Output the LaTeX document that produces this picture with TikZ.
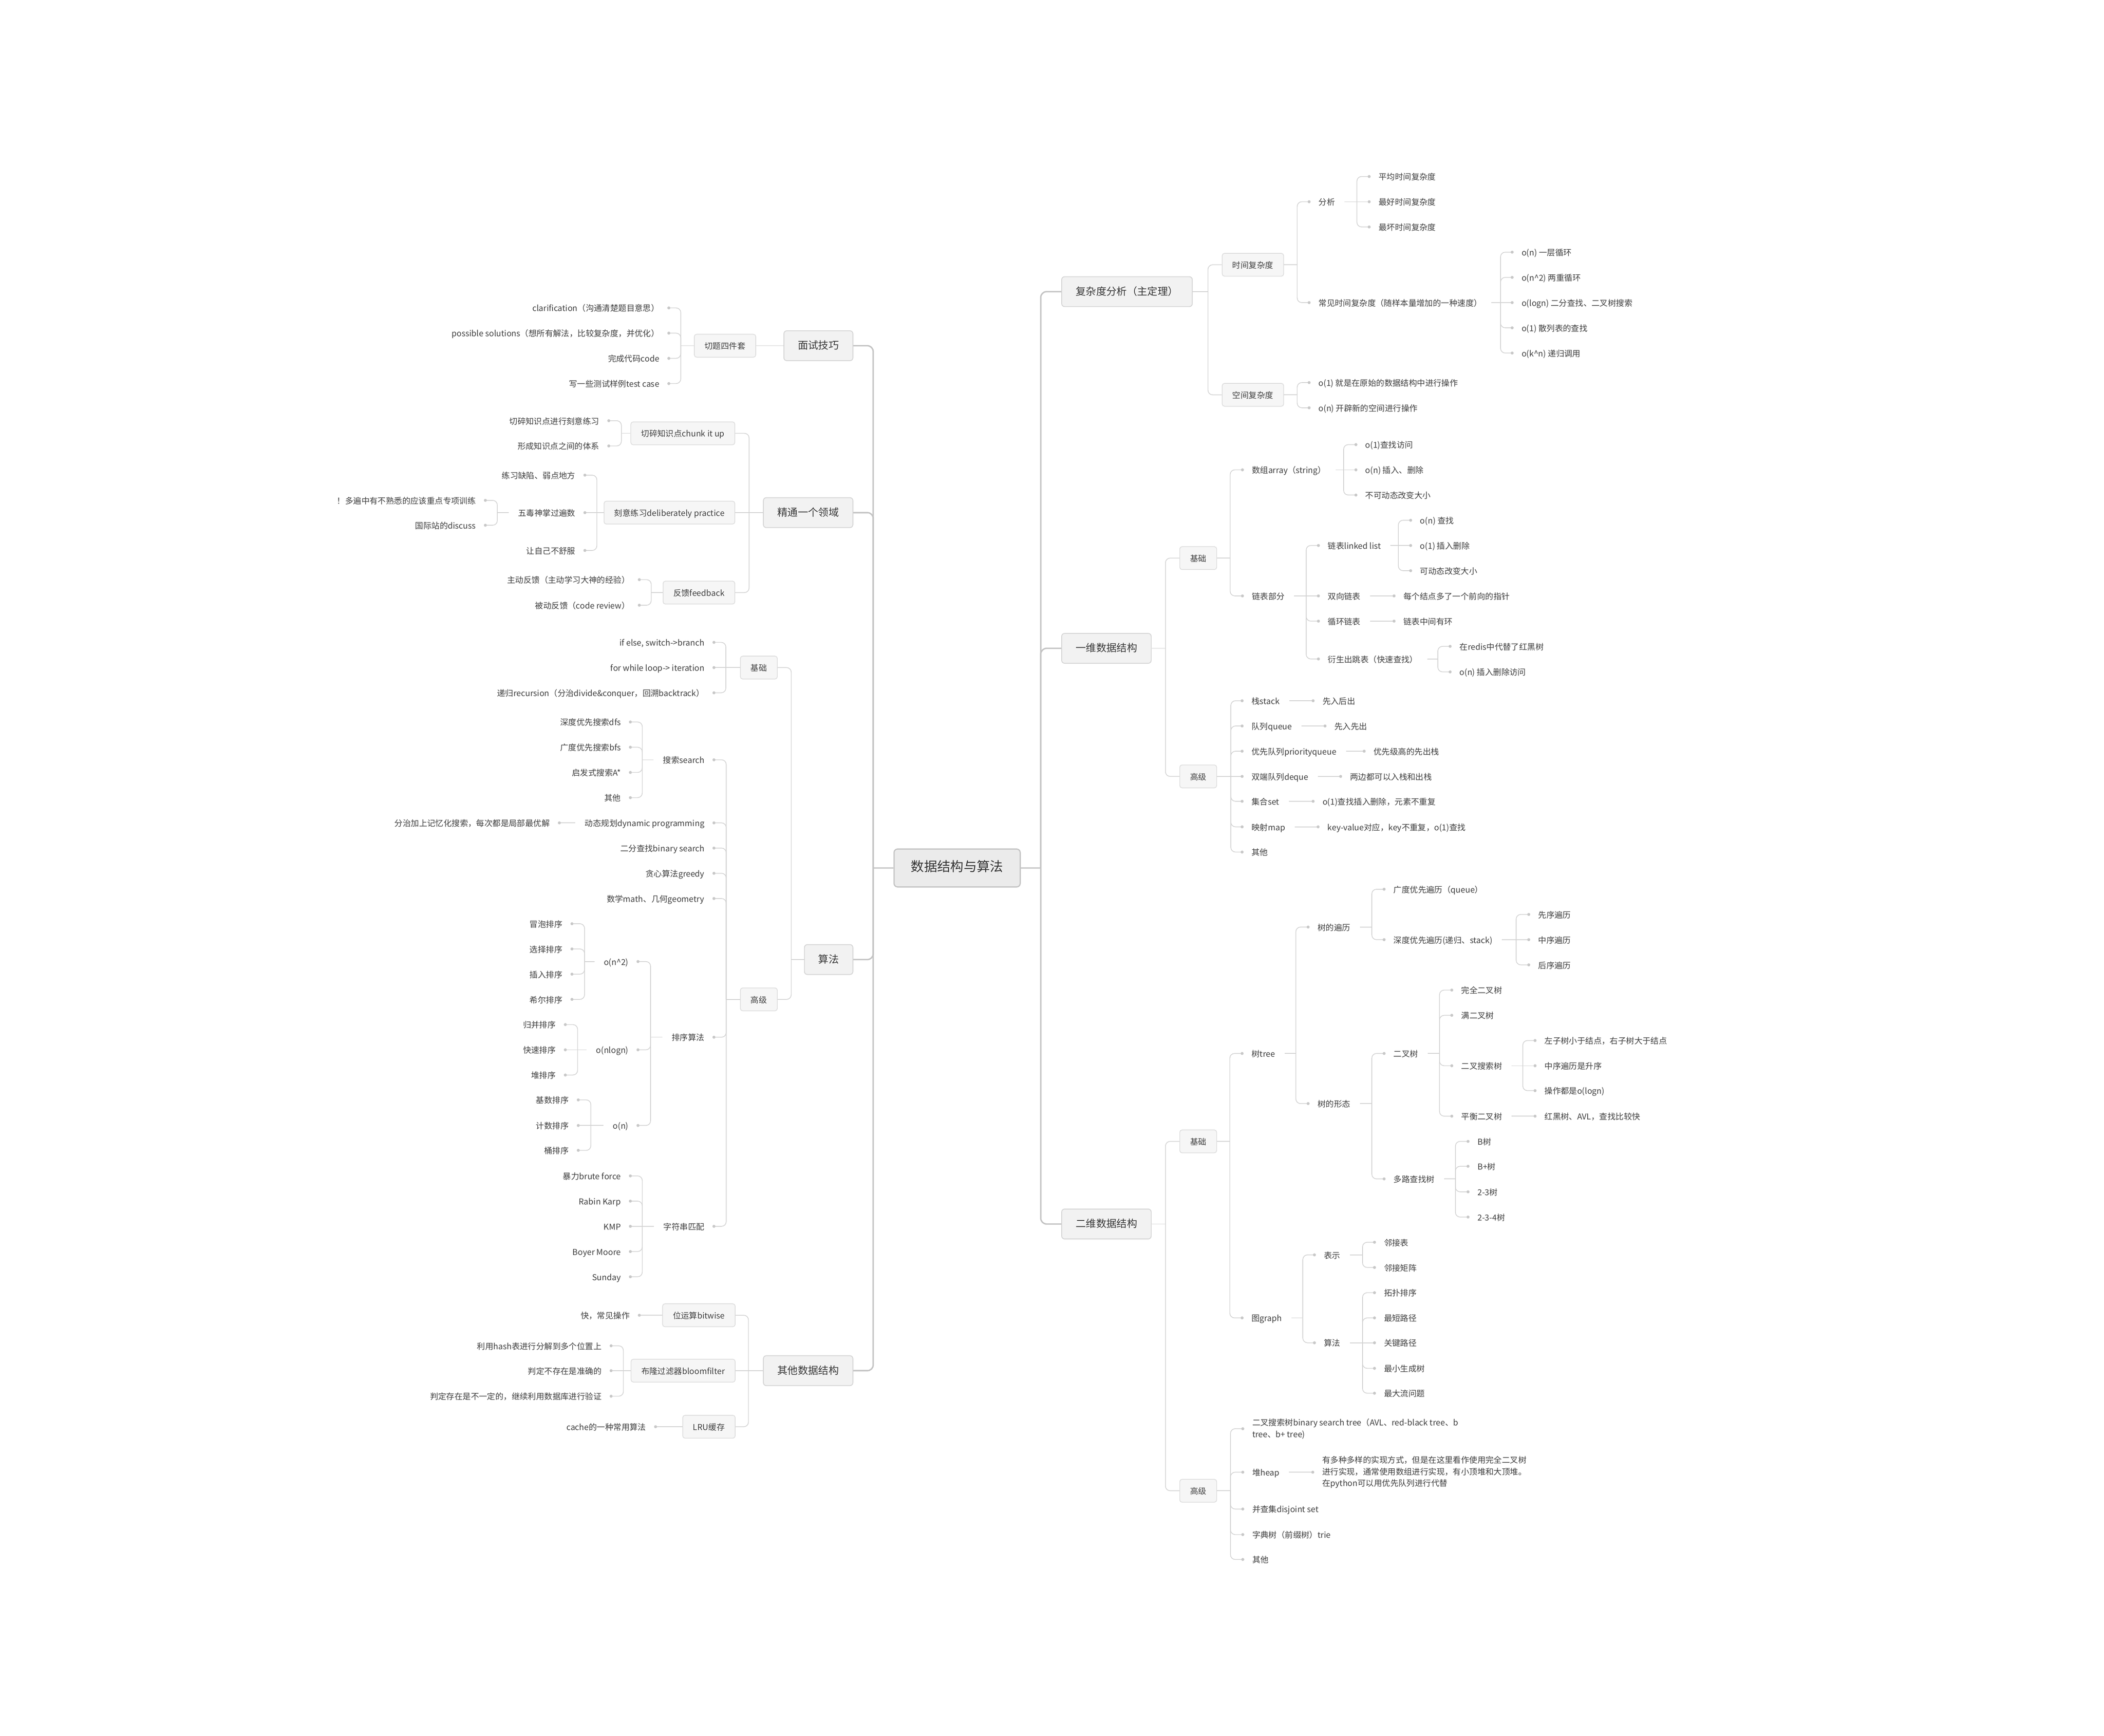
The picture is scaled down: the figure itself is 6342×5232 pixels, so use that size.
\documentclass[tikz,border=0pt]{standalone}
\usepackage{fontspec}
\setmainfont{Noto Sans CJK SC}
\definecolor{txt}{HTML}{404040}
\definecolor{txtone}{HTML}{383838}
\definecolor{txtzero}{HTML}{333333}
\definecolor{lc}{HTML}{D2D2D2}
\definecolor{mlc}{HTML}{C4C4C4}
\definecolor{dc}{HTML}{C8C8C8}
\definecolor{btf}{HTML}{F6F6F6}
\definecolor{btd}{HTML}{DCDCDC}
\definecolor{bof}{HTML}{F2F2F2}
\definecolor{bod}{HTML}{D4D4D4}
\definecolor{rf}{HTML}{EBEBEB}
\definecolor{rd}{HTML}{C4C4C4}
\newcommand\brL[2]{\draw[conn,rc] (#1) |- (#2.east); \fill[dotc] (#2.east) circle (0.45mm);}
\newcommand\brLs[2]{\draw[conn] (#1) -- (#2.east); \fill[dotc] (#2.east) circle (0.45mm);}
\newcommand\bxL[2]{\draw[conn,rc] (#1) |- (#2.east);}
\newcommand\brR[2]{\draw[conn,rc] (#1) |- (#2.west); \fill[dotc] (#2.west) circle (0.45mm);}
\newcommand\brRs[2]{\draw[conn] (#1) -- (#2.west); \fill[dotc] (#2.west) circle (0.45mm);}
\newcommand\bxR[2]{\draw[conn,rc] (#1) |- (#2.west);}
\begin{document}
\begin{tikzpicture}[x=0.01cm,y=-0.01cm,
 txtbase/.style={font=\fontsize{7}{10}\selectfont, text=txt},
 leafL/.style={txtbase, anchor=east, inner xsep=0.28cm, inner ysep=1pt, text height=0.8em, text depth=0.2em},
 leafR/.style={txtbase, anchor=west, inner xsep=0.28cm, inner ysep=1pt, text height=0.8em, text depth=0.2em},
 multiR/.style={txtbase, anchor=west, inner xsep=0.28cm, inner ysep=1pt, align=left},
 boxtwo/.style={txtbase, draw=btd, fill=btf, line width=0.6pt, rounded corners=2pt, minimum height=0.69cm, inner xsep=0.31cm, text height=0.8em, text depth=0.2em},
 boxone/.style={font=\fontsize{8.8}{11}\selectfont, text=txtone, draw=bod, fill=bof, line width=0.7pt, rounded corners=2.5pt, minimum height=0.9cm, inner xsep=0.42cm, text height=0.8em, text depth=0.2em},
 rootbox/.style={font=\fontsize{11.3}{14}\selectfont, text=txtzero, draw=rd, fill=rf, line width=1pt, rounded corners=3pt, minimum height=1.14cm, inner xsep=0.51cm, text height=0.8em, text depth=0.2em},
 conn/.style={draw=lc, line width=0.6pt},
 mconn/.style={draw=mlc, line width=1.2pt},
 rc/.style={rounded corners=4pt},
 mrc/.style={rounded corners=5pt},
 dotc/.style={fill=dc},
]
\fill[white] (0,0) rectangle (6342,5232);
\path[use as bounding box] (0,0) rectangle (6342,5232);

% ---------------- root ----------------
\node[rootbox] (root) at (2885,2616) {数据结构与算法};
\coordinate (sL) at (2632,2616);
\coordinate (sR) at (3137,2616);
\draw[mconn] (root.west) -- (sL);
\draw[mconn] (root.east) -- (sR);

% level 1 left
\node[boxone,anchor=east] (ms) at (2572,1042) {面试技巧};
\node[boxone,anchor=east] (jt) at (2572,1545) {精通一个领域};
\node[boxone,anchor=east] (sf) at (2572,2892) {算法};
\node[boxone,anchor=east] (qt) at (2572,4131) {其他数据结构};
\foreach \n in {ms,jt,sf,qt} {\draw[mconn,mrc] (sL) |- (\n.east);}

% level 1 right
\node[boxone,anchor=west] (fz) at (3199,879) {复杂度分析（主定理）};
\node[boxone,anchor=west] (yw) at (3199,1954) {一维数据结构};
\node[boxone,anchor=west] (ew) at (3199,3689) {二维数据结构};
\foreach \n in {fz,yw,ew} {\draw[mconn,mrc] (sR) |- (\n.west);}

% ================= LEFT =================
% 面试技巧
\node[boxtwo,anchor=east] (qts) at (2279,1042) {切题四件套};
\draw[conn] (ms.west) -- (qts.east);
\coordinate (s-qts) at (2052,1042);
\draw[conn] (qts.west) -- (s-qts);
\node[leafL] (q1) at (2016,928) {clarification（沟通清楚题目意思）};
\node[leafL] (q2) at (2016,1004) {possible solutions（想所有解法，比较复杂度，并优化）};
\node[leafL] (q3) at (2016,1080) {完成代码code};
\node[leafL] (q4) at (2016,1156) {写一些测试样例test case};
\foreach \n in {q1,q2,q3,q4} {\brL{s-qts}{\n}}

% 精通一个领域
\coordinate (s-jt) at (2258,1545);
\draw[conn] (jt.west) -- (s-jt);
\node[boxtwo,anchor=east] (ck) at (2216,1306) {切碎知识点chunk it up};
\node[boxtwo,anchor=east] (kd) at (2216,1545) {刻意练习deliberately practice};
\node[boxtwo,anchor=east] (fb) at (2216,1786) {反馈feedback};
\bxL{s-jt}{ck}
\draw[conn] (s-jt) -- (kd.east);
\bxL{s-jt}{fb}

\coordinate (s-ck) at (1873,1306);
\draw[conn] (ck.west) -- (s-ck);
\node[leafL] (ck1) at (1835,1268) {切碎知识点进行刻意练习};
\node[leafL] (ck2) at (1835,1344) {形成知识点之间的体系};
\brL{s-ck}{ck1}\brL{s-ck}{ck2}

\coordinate (s-kd) at (1799,1545);
\draw[conn] (kd.west) -- (s-kd);
\node[leafL] (kd1) at (1763,1432) {练习缺陷、弱点地方};
\node[leafL] (kd2) at (1763,1545) {五毒神掌过遍数};
\node[leafL] (kd3) at (1763,1659) {让自己不舒服};
\brL{s-kd}{kd1}\brLs{s-kd}{kd2}\brL{s-kd}{kd3}
\coordinate (s-kd2) at (1499,1545);
\draw[conn] (kd2.west) -- (s-kd2);
\node[leafL] (wd1) at (1463,1508) {！多遍中有不熟悉的应该重点专项训练};
\node[leafL] (wd2) at (1463,1583) {国际站的discuss};
\brL{s-kd2}{wd1}\brL{s-kd2}{wd2}

\coordinate (s-fb) at (1963,1786);
\draw[conn] (fb.west) -- (s-fb);
\node[leafL] (fb1) at (1927,1747) {主动反馈（主动学习大神的经验）};
\node[leafL] (fb2) at (1927,1824) {被动反馈（code review）};
\brL{s-fb}{fb1}\brL{s-fb}{fb2}

% 算法
\coordinate (s-sf) at (2385,2892);
\draw[conn] (sf.west) -- (s-sf);
\node[boxtwo,anchor=east] (sj) at (2344,2012) {基础};
\node[boxtwo,anchor=east] (sg) at (2344,3012) {高级};
\bxL{s-sf}{sj}\bxL{s-sf}{sg}

\coordinate (s-sj) at (2188,2012);
\draw[conn] (sj.west) -- (s-sj);
\node[leafL] (sj1) at (2152,1936) {if else, switch->branch};
\node[leafL] (sj2) at (2152,2012) {for while loop-> iteration};
\node[leafL] (sj3) at (2152,2088) {递归recursion（分治divide\&conquer，回溯backtrack）};
\brL{s-sj}{sj1}\brLs{s-sj}{sj2}\brL{s-sj}{sj3}

\coordinate (s-sg) at (2189,3012);
\draw[conn] (sg.west) -- (s-sg);
\node[leafL] (ss) at (2152,2290) {搜索search};
\node[leafL] (dpg) at (2152,2480) {动态规划dynamic programming};
\node[leafL] (bsr) at (2152,2556) {二分查找binary search};
\node[leafL] (gr) at (2152,2632) {贪心算法greedy};
\node[leafL] (mt) at (2152,2708) {数学math、几何geometry};
\node[leafL] (px) at (2152,3126) {排序算法};
\node[leafL] (zf) at (2152,3696) {字符串匹配};
\foreach \n in {ss,dpg,bsr,gr,mt,px,zf} {\brL{s-sg}{\n}}

\coordinate (s-ss) at (1936,2290);
\draw[conn] (ss.west) -- (s-ss);
\node[leafL] (ss1) at (1900,2176) {深度优先搜索dfs};
\node[leafL] (ss2) at (1900,2252) {广度优先搜索bfs};
\node[leafL] (ss3) at (1900,2328) {启发式搜索A*};
\node[leafL] (ss4) at (1900,2404) {其他};
\foreach \n in {ss1,ss2,ss3,ss4} {\brL{s-ss}{\n}}

\node[leafL] (dp1) at (1686,2480) {分治加上记忆化搜索，每次都是局部最优解};
\draw[conn] (dpg.west) -- (dp1.east); \fill[dotc] (dp1.east) circle (0.45mm);

\coordinate (s-px) at (1961,3126);
\draw[conn] (px.west) -- (s-px);
\node[leafL] (on2) at (1923,2898) {o(n\textasciicircum 2)};
\node[leafL] (onl) at (1923,3164) {o(nlogn)};
\node[leafL] (on) at (1923,3392) {o(n)};
\foreach \n in {on2,onl,on} {\brL{s-px}{\n}}

\coordinate (s-on2) at (1762,2898);
\draw[conn] (on2.west) -- (s-on2);
\node[leafL] (p1) at (1724,2784) {冒泡排序};
\node[leafL] (p2) at (1724,2860) {选择排序};
\node[leafL] (p3) at (1724,2936) {插入排序};
\node[leafL] (p4) at (1724,3012) {希尔排序};
\foreach \n in {p1,p2,p3,p4} {\brL{s-on2}{\n}}

\coordinate (s-onl) at (1741,3164);
\draw[conn] (onl.west) -- (s-onl);
\node[leafL] (p5) at (1704,3088) {归并排序};
\node[leafL] (p6) at (1704,3164) {快速排序};
\node[leafL] (p7) at (1704,3240) {堆排序};
\brL{s-onl}{p5}\brLs{s-onl}{p6}\brL{s-onl}{p7}

\coordinate (s-on) at (1781,3392);
\draw[conn] (on.west) -- (s-on);
\node[leafL] (p8) at (1743,3315) {基数排序};
\node[leafL] (p9) at (1743,3392) {计数排序};
\node[leafL] (p10) at (1743,3467) {桶排序};
\brL{s-on}{p8}\brLs{s-on}{p9}\brL{s-on}{p10}

\coordinate (s-zf) at (1936,3696);
\draw[conn] (zf.west) -- (s-zf);
\node[leafL] (z1) at (1900,3544) {暴力brute force};
\node[leafL] (z2) at (1900,3620) {Rabin Karp};
\node[leafL] (z3) at (1900,3696) {KMP};
\node[leafL] (z4) at (1900,3772) {Boyer Moore};
\node[leafL] (z5) at (1900,3848) {Sunday};
\brL{s-zf}{z1}\brL{s-zf}{z2}\brLs{s-zf}{z3}\brL{s-zf}{z4}\brL{s-zf}{z5}

% 其他数据结构
\coordinate (s-qt) at (2256,4131);
\draw[conn] (qt.west) -- (s-qt);
\node[boxtwo,anchor=east] (bw) at (2217,3964) {位运算bitwise};
\node[boxtwo,anchor=east] (bf) at (2217,4131) {布隆过滤器bloomfilter};
\node[boxtwo,anchor=east] (lru) at (2217,4300) {LRU缓存};
\bxL{s-qt}{bw}
\draw[conn] (s-qt) -- (bf.east);
\bxL{s-qt}{lru}

\node[leafL] (bw1) at (1927,3964) {快，常见操作};
\draw[conn] (bw.west) -- (bw1.east); \fill[dotc] (bw1.east) circle (0.45mm);

\coordinate (s-bf) at (1879,4131);
\draw[conn] (bf.west) -- (s-bf);
\node[leafL] (bf1) at (1842,4056) {利用hash表进行分解到多个位置上};
\node[leafL] (bf2) at (1842,4131) {判定不存在是准确的};
\node[leafL] (bf3) at (1842,4208) {判定存在是不一定的，继续利用数据库进行验证};
\brL{s-bf}{bf1}\brLs{s-bf}{bf2}\brL{s-bf}{bf3}

\node[leafL] (lru1) at (1976,4300) {cache的一种常用算法};
\draw[conn] (lru.west) -- (lru1.east); \fill[dotc] (lru1.east) circle (0.45mm);

% ================= RIGHT =================
% 复杂度分析
\coordinate (s-fz) at (3641,879);
\draw[conn] (fz.east) -- (s-fz);
\node[boxtwo,anchor=west] (sjf) at (3683,798) {时间复杂度};
\node[boxtwo,anchor=west] (kjf) at (3683,1190) {空间复杂度};
\bxR{s-fz}{sjf}\bxR{s-fz}{kjf}

\coordinate (s-sjf) at (3910,798);
\draw[conn] (sjf.east) -- (s-sjf);
\node[leafR] (fx) at (3946,608) {分析};
\node[leafR] (cj) at (3946,912) {常见时间复杂度（随样本量增加的一种速度）};
\brR{s-sjf}{fx}\brR{s-sjf}{cj}

\coordinate (s-fx) at (4090,608);
\draw[conn] (fx.east) -- (s-fx);
\node[leafR] (fx1) at (4127,532) {平均时间复杂度};
\node[leafR] (fx2) at (4127,608) {最好时间复杂度};
\node[leafR] (fx3) at (4127,684) {最坏时间复杂度};
\brR{s-fx}{fx1}\brRs{s-fx}{fx2}\brR{s-fx}{fx3}

\coordinate (s-cj) at (4523,912);
\draw[conn] (cj.east) -- (s-cj);
\node[leafR] (cj1) at (4558,760) {o(n) 一层循环};
\node[leafR] (cj2) at (4558,836) {o(n\textasciicircum 2) 两重循环};
\node[leafR] (cj3) at (4558,912) {o(logn) 二分查找、二叉树搜索};
\node[leafR] (cj4) at (4558,988) {o(1) 散列表的查找};
\node[leafR] (cj5) at (4558,1064) {o(k\textasciicircum n) 递归调用};
\brR{s-cj}{cj1}\brR{s-cj}{cj2}\brRs{s-cj}{cj3}\brR{s-cj}{cj4}\brR{s-cj}{cj5}

\coordinate (s-kjf) at (3910,1190);
\draw[conn] (kjf.east) -- (s-kjf);
\node[leafR] (kj1) at (3946,1153) {o(1) 就是在原始的数据结构中进行操作};
\node[leafR] (kj2) at (3946,1229) {o(n) 开辟新的空间进行操作};
\brR{s-kjf}{kj1}\brR{s-kjf}{kj2}

% 一维数据结构
\coordinate (s-yw) at (3513,1954);
\draw[conn] (yw.east) -- (s-yw);
\node[boxtwo,anchor=west] (yj) at (3555,1682) {基础};
\node[boxtwo,anchor=west] (yg) at (3555,2340) {高级};
\bxR{s-yw}{yj}\bxR{s-yw}{yg}

\coordinate (s-yj) at (3708,1682);
\draw[conn] (yj.east) -- (s-yj);
\node[leafR] (sz) at (3745,1416) {数组array（string）};
\node[leafR] (lb) at (3745,1796) {链表部分};
\brR{s-yj}{sz}\brR{s-yj}{lb}

\coordinate (s-sz) at (4050,1416);
\draw[conn] (sz.east) -- (s-sz);
\node[leafR] (sz1) at (4087,1340) {o(1)查找访问};
\node[leafR] (sz2) at (4087,1416) {o(n) 插入、删除};
\node[leafR] (sz3) at (4087,1492) {不可动态改变大小};
\brR{s-sz}{sz1}\brRs{s-sz}{sz2}\brR{s-sz}{sz3}

\coordinate (s-lb) at (3937,1796);
\draw[conn] (lb.east) -- (s-lb);
\node[leafR] (ll) at (3974,1644) {链表linked list};
\node[leafR] (sxl) at (3974,1796) {双向链表};
\node[leafR] (xhl) at (3974,1872) {循环链表};
\node[leafR] (tbl) at (3974,1986) {衍生出跳表（快速查找）};
\brR{s-lb}{ll}\brRs{s-lb}{sxl}\brR{s-lb}{xhl}\brR{s-lb}{tbl}

\coordinate (s-ll) at (4215,1644);
\draw[conn] (ll.east) -- (s-ll);
\node[leafR] (ll1) at (4252,1568) {o(n) 查找};
\node[leafR] (ll2) at (4252,1644) {o(1) 插入删除};
\node[leafR] (ll3) at (4252,1720) {可动态改变大小};
\brR{s-ll}{ll1}\brRs{s-ll}{ll2}\brR{s-ll}{ll3}

\node[leafR] (sx1) at (4202,1796) {每个结点多了一个前向的指针};
\draw[conn] (sxl.east) -- (sx1.west); \fill[dotc] (sx1.west) circle (0.45mm);
\node[leafR] (xh1) at (4202,1872) {链表中间有环};
\draw[conn] (xhl.east) -- (xh1.west); \fill[dotc] (xh1.west) circle (0.45mm);

\coordinate (s-tbl) at (4334,1986);
\draw[conn] (tbl.east) -- (s-tbl);
\node[leafR] (tb1) at (4371,1948) {在redis中代替了红黑树};
\node[leafR] (tb2) at (4371,2025) {o(n) 插入删除访问};
\brR{s-tbl}{tb1}\brR{s-tbl}{tb2}

\coordinate (s-yg) at (3710,2340);
\draw[conn] (yg.east) -- (s-yg);
\node[leafR] (stk) at (3744,2112) {栈stack};
\node[leafR] (que) at (3744,2188) {队列queue};
\node[leafR] (pq) at (3744,2264) {优先队列priorityqueue};
\node[leafR] (dq) at (3744,2340) {双端队列deque};
\node[leafR] (st) at (3744,2415) {集合set};
\node[leafR] (mp) at (3744,2492) {映射map};
\node[leafR] (qo) at (3744,2568) {其他};
\brR{s-yg}{stk}\brR{s-yg}{que}\brR{s-yg}{pq}\brRs{s-yg}{dq}\brR{s-yg}{st}\brR{s-yg}{mp}\brR{s-yg}{qo}

\node[leafR] (stk1) at (3958,2112) {先入后出};
\node[leafR] (que1) at (3994,2188) {先入先出};
\node[leafR] (pq1) at (4112,2264) {优先级高的先出栈};
\node[leafR] (dq1) at (4041,2340) {两边都可以入栈和出栈};
\node[leafR] (st1) at (3958,2415) {o(1)查找插入删除，元素不重复};
\node[leafR] (mp1) at (3973,2492) {key-value对应，key不重复，o(1)查找};
\foreach \a/\b in {stk/stk1,que/que1,pq/pq1,dq/dq1,st/st1,mp/mp1} {
  \draw[conn] (\a.east) -- (\b.west); \fill[dotc] (\b.west) circle (0.45mm);}

% 二维数据结构
\coordinate (s-ew) at (3513,3689);
\draw[conn] (ew.east) -- (s-ew);
\node[boxtwo,anchor=west] (ej) at (3555,3440) {基础};
\node[boxtwo,anchor=west] (eg) at (3555,4493) {高级};
\bxR{s-ew}{ej}\bxR{s-ew}{eg}

\coordinate (s-ej) at (3707,3440);
\draw[conn] (ej.east) -- (s-ej);
\node[leafR] (tr) at (3744,3175) {树tree};
\node[leafR] (gp) at (3744,3972) {图graph};
\brR{s-ej}{tr}\brR{s-ej}{gp}

\coordinate (s-tr) at (3906,3175);
\draw[conn] (tr.east) -- (s-tr);
\node[leafR] (tt) at (3943,2794) {树的遍历};
\node[leafR] (tx) at (3943,3326) {树的形态};
\brR{s-tr}{tt}\brR{s-tr}{tx}

\coordinate (s-tt) at (4135,2794);
\draw[conn] (tt.east) -- (s-tt);
\node[leafR] (bfs) at (4172,2680) {广度优先遍历（queue）};
\node[leafR] (dfs) at (4172,2832) {深度优先遍历(递归、stack)};
\brR{s-tt}{bfs}\brR{s-tt}{dfs}

\coordinate (s-dfs) at (4570,2832);
\draw[conn] (dfs.east) -- (s-dfs);
\node[leafR] (d1) at (4608,2756) {先序遍历};
\node[leafR] (d2) at (4608,2832) {中序遍历};
\node[leafR] (d3) at (4608,2908) {后序遍历};
\brR{s-dfs}{d1}\brRs{s-dfs}{d2}\brR{s-dfs}{d3}

\coordinate (s-tx) at (4135,3326);
\draw[conn] (tx.east) -- (s-tx);
\node[leafR] (bt) at (4172,3175) {二叉树};
\node[leafR] (mw) at (4172,3553) {多路查找树};
\brR{s-tx}{bt}\brR{s-tx}{mw}

\coordinate (s-bt) at (4339,3175);
\draw[conn] (bt.east) -- (s-bt);
\node[leafR] (bt1) at (4376,2984) {完全二叉树};
\node[leafR] (bt2) at (4376,3060) {满二叉树};
\node[leafR] (bt3) at (4376,3212) {二叉搜索树};
\node[leafR] (bt4) at (4376,3364) {平衡二叉树};
\foreach \n in {bt1,bt2,bt3,bt4} {\brR{s-bt}{\n}}

\coordinate (s-bt3) at (4590,3212);
\draw[conn] (bt3.east) -- (s-bt3);
\node[leafR] (bs1) at (4627,3136) {左子树小于结点，右子树大于结点};
\node[leafR] (bs2) at (4627,3212) {中序遍历是升序};
\node[leafR] (bs3) at (4627,3287) {操作都是o(logn)};
\brR{s-bt3}{bs1}\brRs{s-bt3}{bs2}\brR{s-bt3}{bs3}

\node[leafR] (av1) at (4627,3364) {红黑树、AVL，查找比较快};
\draw[conn] (bt4.east) -- (av1.west); \fill[dotc] (av1.west) circle (0.45mm);

\coordinate (s-mw) at (4387,3553);
\draw[conn] (mw.east) -- (s-mw);
\node[leafR] (m1) at (4425,3440) {B树};
\node[leafR] (m2) at (4425,3515) {B+树};
\node[leafR] (m3) at (4425,3592) {2-3树};
\node[leafR] (m4) at (4425,3668) {2-3-4树};
\foreach \n in {m1,m2,m3,m4} {\brR{s-mw}{\n}}

\coordinate (s-gp) at (3927,3972);
\draw[conn] (gp.east) -- (s-gp);
\node[leafR] (bsh) at (3962,3782) {表示};
\node[leafR] (gal) at (3962,4047) {算法};
\brR{s-gp}{bsh}\brR{s-gp}{gal}

\coordinate (s-bsh) at (4107,3782);
\draw[conn] (bsh.east) -- (s-bsh);
\node[leafR] (g1) at (4143,3744) {邻接表};
\node[leafR] (g2) at (4143,3820) {邻接矩阵};
\brR{s-bsh}{g1}\brR{s-bsh}{g2}

\coordinate (s-gal) at (4107,4047);
\draw[conn] (gal.east) -- (s-gal);
\node[leafR] (g3) at (4143,3896) {拓扑排序};
\node[leafR] (g4) at (4143,3972) {最短路径};
\node[leafR] (g5) at (4143,4047) {关键路径};
\node[leafR] (g6) at (4143,4124) {最小生成树};
\node[leafR] (g7) at (4143,4199) {最大流问题};
\brR{s-gal}{g3}\brR{s-gal}{g4}\brRs{s-gal}{g5}\brR{s-gal}{g6}\brR{s-gal}{g7}

\coordinate (s-eg) at (3709,4493);
\draw[conn] (eg.east) -- (s-eg);
\node[multiR] (bst) at (3746,4306) {二叉搜索树binary search tree（AVL、red-black tree、b\\tree、b+ tree)};
\node[leafR] (hp) at (3746,4437) {堆heap};
\node[leafR] (dj) at (3746,4548) {并查集disjoint set};
\node[leafR] (tri) at (3746,4625) {字典树（前缀树）trie};
\node[leafR] (eo) at (3746,4700) {其他};
\foreach \n in {bst,hp,dj,tri,eo} {\brR{s-eg}{\n}}

\node[multiR] (hp1) at (3957,4437) {有多种多样的实现方式，但是在这里看作使用完全二叉树\\进行实现，通常使用数组进行实现，有小顶堆和大顶堆。\\在python可以用优先队列进行代替};
\draw[conn] (hp.east) -- (hp1.west); \fill[dotc] (hp1.west) circle (0.45mm);

\end{tikzpicture}
\end{document}
